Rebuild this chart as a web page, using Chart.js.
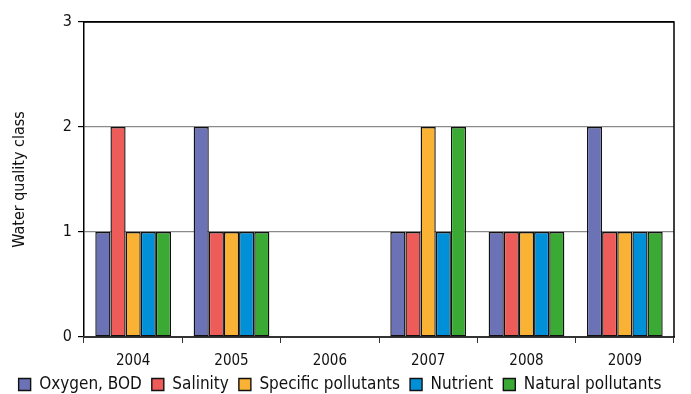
<!DOCTYPE html>
<html>
<head>
<meta charset="utf-8">
<script src="https://cdn.jsdelivr.net/npm/chart.js@4"></script>
<style>
  body { margin: 0; background: #fff; }
  #wrap { width: 691px; height: 394px; }
</style>
</head>
<body>
<div id="wrap"><canvas id="wq" width="691" height="394"></canvas></div>
<script>
// Water quality class per year
const years = ['2004', '2005', '2006', '2007', '2008', '2009'];
const oxygenBOD = [1, 2, null, 1, 1, 2];
const salinity = [2, 1, null, 1, 1, 1];
const specificPollutants = [1, 1, null, 2, 1, 1];
const nutrient = [1, 1, null, 1, 1, 1];
const naturalPollutants = [1, 1, null, 2, 1, 1];
const yTicks = [0, 1, 2, 3];

const FONT = "'Liberation Sans Narrow', 'DejaVu Sans Condensed', sans-serif";

function ds(label, data, color) {
    return {
        label: label,
        data: data,
        backgroundColor: color,
        borderColor: '#111',
        borderWidth: 1.4,
        borderSkipped: false,
        categoryPercentage: 0.77,
        barPercentage: 1.0
    };
}

// top + right frame of the plot area
const frame = {
    id: 'frame',
    afterDatasetsDraw(chart) {
        const a = chart.chartArea, c = chart.ctx;
        c.save();
        c.strokeStyle = '#000';
        c.lineWidth = 1.5;
        c.beginPath();
        c.moveTo(a.left, a.top);
        c.lineTo(a.right, a.top);
        c.lineTo(a.right, a.bottom);
        c.stroke();
        c.restore();
    }
};

const ctx = document.getElementById('wq').getContext('2d');
new Chart(ctx, {
    type: 'bar',
    data: {
        labels: years,
        datasets: [
            ds('Oxygen, BOD', oxygenBOD, '#6b72b5'),
            ds('Salinity', salinity, '#ee5c5a'),
            ds('Specific pollutants', specificPollutants, '#f9b233'),
            ds('Nutrient', nutrient, '#0090d8'),
            ds('Natural pollutants', naturalPollutants, '#3aaa35')
        ]
    },
    options: {
        responsive: false,
        animation: false,
        layout: {
            padding: { top: 22, right: 17, left: 6, bottom: -9 }
        },
        plugins: {
            legend: {
                position: 'bottom',
                labels: {
                    boxWidth: 12,
                    boxHeight: 12,
                    padding: 10,
                    color: '#111',
                    font: { family: FONT, size: 17 }
                }
            },
            tooltip: { enabled: false }
        },
        scales: {
            y: {
                min: 0,
                max: 3,
                afterBuildTicks(scale) {
                    scale.ticks = yTicks.map(v => ({ value: v }));
                },
                afterFit(scale) { scale.width = 78; },
                border: { display: true, color: '#000', width: 1.5 },
                grid: {
                    color: ctx => ctx.tick && ctx.tick.value === 3 ? '#000' : '#8a8a8a',
                    lineWidth: 1.2,
                    tickColor: '#000',
                    tickLength: 6
                },
                ticks: {
                    color: '#111',
                    padding: 6,
                    font: { family: FONT, size: 16 }
                },
                title: {
                    display: true,
                    text: 'Water quality class',
                    color: '#111',
                    padding: { bottom: 10 },
                    font: { family: FONT, size: 16 }
                }
            },
            x: {
                afterFit(scale) { scale.height = 29; },
                border: { display: true, color: '#333', width: 2 },
                grid: {
                    offset: true,
                    drawOnChartArea: false,
                    tickColor: '#333',
                    tickLength: 6
                },
                ticks: {
                    color: '#111',
                    padding: 9,
                    font: { family: FONT, size: 15 }
                }
            }
        }
    },
    plugins: [frame]
});
</script>
</body>
</html>
